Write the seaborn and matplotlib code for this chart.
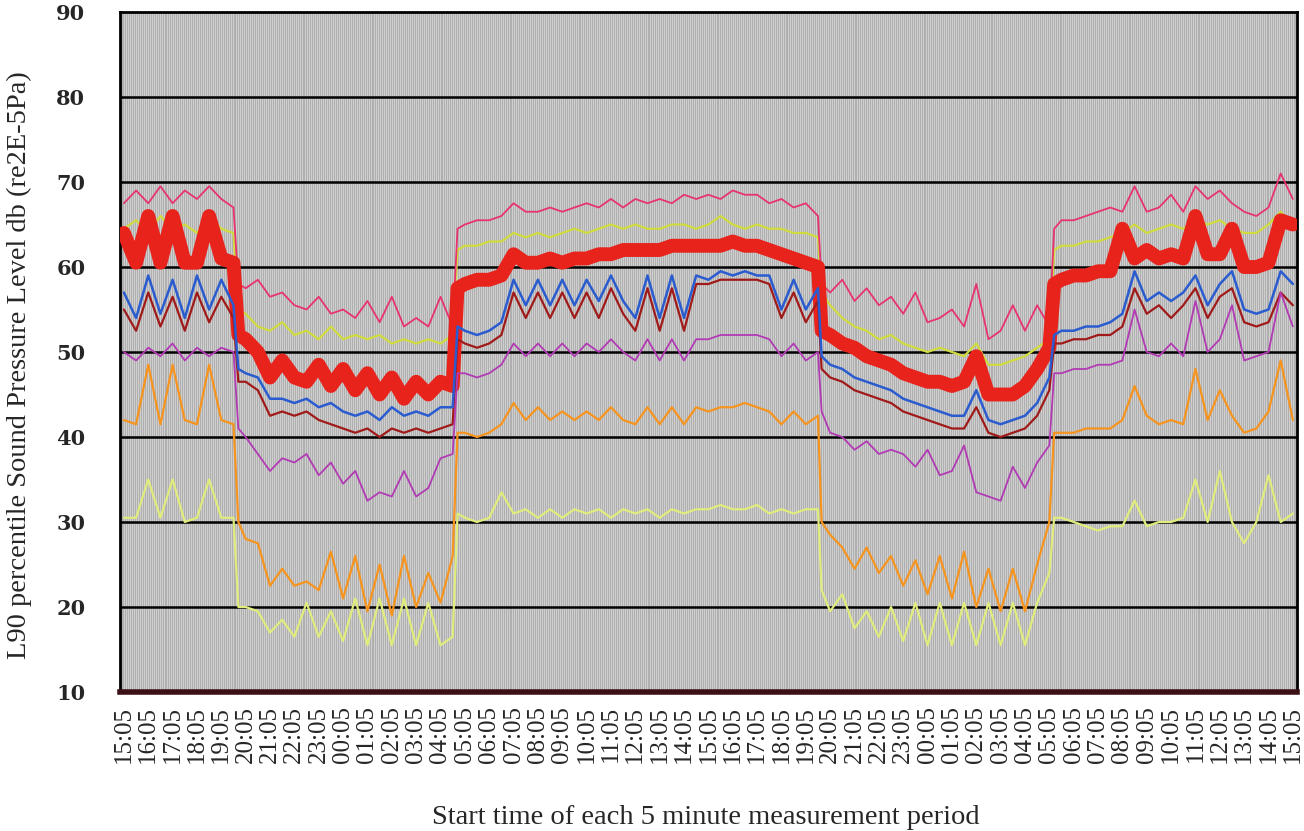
import numpy as np
import matplotlib
matplotlib.use("Agg")
import matplotlib.pyplot as plt
import seaborn as sns

# sample times in hours after 15:05 on day 1 (half-hour readings plus the step edges)
hours = np.array(list(np.arange(0, 5, 0.5)) + [4.7] + list(np.arange(5, 14, 0.5)) + [13.7]
                 + list(np.arange(14, 29, 0.5)) + [28.65] + list(np.arange(29, 38.5, 0.5))
                 + [38.2] + list(np.arange(38.5, 48.5, 0.5)))

# L90 readings (dB) per microphone, split as day1 / night1 / day2 / night2 / day3
pink = ([67.5, 69, 67.5, 69.5, 67.5, 69, 68, 69.5, 68, 67]
        + [58, 57.5, 58.5, 56.5, 57, 55.5, 55, 56.5, 54.5, 55, 54, 56, 53.5, 56.5, 53, 54, 53, 56.5, 53]
        + [64.5, 65, 65.5, 65.5, 66, 67.5, 66.5, 66.5, 67, 66.5, 67, 67.5, 67, 68, 67, 68, 67.5, 68, 67.5,
           68.5, 68, 68.5, 68, 69, 68.5, 68.5, 67.5, 68, 67, 67.5, 66]
        + [58, 57, 58.5, 56, 57.5, 55.5, 56.5, 54.5, 57, 53.5, 54, 55, 53, 58, 51.5, 52.5, 55.5, 52.5, 55.5, 53]
        + [64.5, 65.5, 65.5, 66, 66.5, 67, 66.5, 69.5, 66.5, 67, 68.5, 66.5, 69.5, 68, 69, 67.5, 66.5, 66, 67, 71, 68])

lime = ([64.5, 65.5, 64, 66, 64.5, 65, 64, 66, 64.5, 64]
        + [55, 54.5, 53, 52.5, 53.5, 52, 52.5, 51.5, 53, 51.5, 52, 51.5, 52, 51, 51.5, 51, 51.5, 51, 52]
        + [62, 62.5, 62.5, 63, 63, 64, 63.5, 64, 63.5, 64, 64.5, 64, 64.5, 65, 64.5, 65, 64.5, 64.5, 65, 65,
           64.5, 65, 66, 65, 64.5, 65, 64.5, 64.5, 64, 64, 63.5]
        + [57, 55.5, 54, 53, 52.5, 51.5, 52, 51, 50.5, 50, 50.5, 50, 49.5, 51, 48.5, 48.5, 49, 49.5, 50.5, 51.5]
        + [62, 62.5, 62.5, 63, 63, 63.5, 64, 65, 64, 64.5, 65, 64.5, 65.5, 65, 65.5, 64.5, 64, 64, 65, 66.5, 65])

red = ([64, 60.5, 66, 60.5, 66, 60.5, 60.5, 66, 61, 60.5]
       + [52, 51.5, 50, 47, 49, 47, 46.5, 48.5, 46, 48, 45.5, 47.5, 45, 47, 44.5, 46.5, 45, 46.5, 46]
       + [57.5, 58, 58.5, 58.5, 59, 61.5, 60.5, 60.5, 61, 60.5, 61, 61, 61.5, 61.5, 62, 62, 62, 62, 62.5,
          62.5, 62.5, 62.5, 62.5, 63, 62.5, 62.5, 62, 61.5, 61, 60.5, 60]
       + [52.5, 52, 51, 50.5, 49.5, 49, 48.5, 47.5, 47, 46.5, 46.5, 46, 46.5, 49.5, 45, 45, 45, 46, 48, 50.5]
       + [58, 58.5, 59, 59, 59.5, 59.5, 64.5, 61, 62, 61, 61.5, 61, 66, 61.5, 61.5, 64.5, 60, 60, 60.5, 65.5, 65])

blue = ([57, 54, 59, 54.5, 58.5, 54, 59, 55, 58.5, 55.5]
        + [48, 47.5, 47, 44.5, 44.5, 44, 44.5, 43.5, 44, 43, 42.5, 43, 42, 43.5, 42.5, 43, 42.5, 43.5, 43.5]
        + [53, 52.5, 52, 52.5, 53.5, 58.5, 55.5, 58.5, 55.5, 58.5, 55.5, 58.5, 56, 59, 56, 54, 59, 54, 59, 54,
           59, 58.5, 59.5, 59, 59.5, 59, 59, 55, 58.5, 55, 57.5]
        + [49.5, 48.5, 48, 47, 46.5, 46, 45.5, 44.5, 44, 43.5, 43, 42.5, 42.5, 45.5, 42, 41.5, 42, 42.5, 44, 47]
        + [52, 52.5, 52.5, 53, 53, 53.5, 54.5, 59.5, 56, 57, 56, 57, 59, 55.5, 58, 59.5, 55, 54.5, 55, 59.5, 58])

darkred = ([55, 52.5, 57, 53, 56.5, 52.5, 57, 53.5, 56.5, 54]
           + [46.5, 46.5, 45.5, 42.5, 43, 42.5, 43, 42, 41.5, 41, 40.5, 41, 40, 41, 40.5, 41, 40.5, 41, 41.5]
           + [51.5, 51, 50.5, 51, 52, 57, 54, 57, 54, 57, 54, 57, 54, 57.5, 54.5, 52.5, 57.5, 52.5, 57.5, 52.5,
              58, 58, 58.5, 58.5, 58.5, 58.5, 58, 54, 57, 53.5, 56]
           + [48, 47, 46.5, 45.5, 45, 44.5, 44, 43, 42.5, 42, 41.5, 41, 41, 43.5, 40.5, 40, 40.5, 41, 42.5, 45.5]
           + [51, 51, 51.5, 51.5, 52, 52, 53, 57.5, 54.5, 55.5, 54, 55.5, 57.5, 54, 56.5, 57.5, 53.5, 53, 53.5, 57, 55.5])

purple = ([50, 49, 50.5, 49.5, 51, 49, 50.5, 49.5, 50.5, 50]
          + [41, 40, 38, 36, 37.5, 37, 38, 35.5, 37, 34.5, 36, 32.5, 33.5, 33, 36, 33, 34, 37.5, 38]
          + [47.5, 47.5, 47, 47.5, 48.5, 51, 49.5, 51, 49.5, 51, 49.5, 51, 50, 51.5, 50, 49, 51.5, 49, 51.5, 49,
             51.5, 51.5, 52, 52, 52, 52, 51.5, 49.5, 51, 49, 50]
          + [43, 40.5, 40, 38.5, 39.5, 38, 38.5, 38, 36.5, 38.5, 35.5, 36, 39, 33.5, 33, 32.5, 36.5, 34, 37, 39]
          + [47.5, 47.5, 48, 48, 48.5, 48.5, 49, 55, 50, 49.5, 51, 49.5, 56, 50, 51.5, 55.5, 49, 49.5, 50, 57, 53])

orange = ([42, 41.5, 48.5, 41.5, 48.5, 42, 41.5, 48.5, 42, 41.5]
          + [30, 28, 27.5, 22.5, 24.5, 22.5, 23, 22, 26.5, 21, 26, 19.5, 25, 19, 26, 20, 24, 20.5, 26]
          + [40.5, 40.5, 40, 40.5, 41.5, 44, 42, 43.5, 42, 43, 42, 43, 42, 43.5, 42, 41.5, 43.5, 41.5, 43.5, 41.5,
             43.5, 43, 43.5, 43.5, 44, 43.5, 43, 41.5, 43, 41.5, 42.5]
          + [30, 28.5, 27, 24.5, 27, 24, 26, 22.5, 25.5, 21.5, 26, 21, 26.5, 20, 24.5, 19.5, 24.5, 19.5, 25, 30]
          + [40.5, 40.5, 40.5, 41, 41, 41, 42, 46, 42.5, 41.5, 42, 41.5, 48, 42, 45.5, 42.5, 40.5, 41, 43, 49, 42])

pale = ([30.5, 30.5, 35, 30.5, 35, 30, 30.5, 35, 30.5, 30.5]
        + [20, 20, 19.5, 17, 18.5, 16.5, 20.5, 16.5, 19.5, 16, 21, 15.5, 21, 15.5, 21, 15.5, 20.5, 15.5, 16.5]
        + [31, 30.5, 30, 30.5, 33.5, 31, 31.5, 30.5, 31.5, 30.5, 31.5, 31, 31.5, 30.5, 31.5, 31, 31.5, 30.5, 31.5,
           31, 31.5, 31.5, 32, 31.5, 31.5, 32, 31, 31.5, 31, 31.5, 31.5]
        + [22, 19.5, 21.5, 17.5, 19.5, 16.5, 20, 16, 20.5, 15.5, 20.5, 15.5, 20.5, 15.5, 20.5, 15.5, 20.5, 15.5, 20.5, 24]
        + [30.5, 30.5, 30, 29.5, 29, 29.5, 29.5, 32.5, 29.5, 30, 30, 30.5, 35, 30, 36, 30, 27.5, 30, 35.5, 30, 31])

tick_labels = ["%02d:05" % ((15 + i) % 24) for i in range(49)]

sns.set_style("white")
plt.rcParams['font.family'] = ['Liberation Serif', 'DejaVu Serif']

fig = plt.figure(figsize=(13.04, 8.31), dpi=100)
ax = fig.add_axes([120 / 1304, 1 - 692 / 831, 1177 / 1304, 680 / 831])
ax.set_facecolor('#afafaf')

# one faint line per 5 minute period, black lines every 10 dB
ax.vlines(np.arange(0, 48.01, 1 / 12), 10, 90, colors='#dedede', linewidth=0.5, zorder=0)
for y in range(20, 90, 10):
    ax.axhline(y, color='black', linewidth=1.8, zorder=1)

lines = [
    (lime, '#d0dc3e', 1.6, 2),
    (pink, '#e8336f', 1.3, 3),
    (red, '#e8231c', 10, 4),
    (darkred, '#a01a1a', 1.6, 5),
    (blue, '#2a5cd0', 1.8, 6),
    (purple, '#b23ab4', 1.3, 7),
    (orange, '#f7941e', 1.6, 8),
    (pale, '#e0ec7c', 1.6, 9),
]
for vals, col, lw, z in lines:
    assert len(vals) == len(hours)
    sns.lineplot(x=hours, y=np.array(vals), ax=ax, color=col, linewidth=lw,
                 estimator=None, sort=False, legend=False, zorder=z)

ax.set_xlim(-0.16, 48.17)
ax.set_ylim(10, 90)
ax.set_xticks(range(49))
ax.set_xticklabels(tick_labels, rotation=90, fontsize=18)
ax.set_yticks(range(10, 91, 10))
ax.set_yticklabels([str(v) for v in range(10, 91, 10)], family='DejaVu Serif',
                   fontweight='bold', fontsize=15)
ax.tick_params(axis='x', length=0, pad=10)
ax.tick_params(axis='y', length=7, width=1.5, direction='out', pad=18)
ax.set_xlabel('')
ax.set_ylabel('')

for side in ['top', 'left', 'right']:
    ax.spines[side].set_color('black')
    ax.spines[side].set_linewidth(2)
ax.spines['bottom'].set_color('#3d1016')
ax.spines['bottom'].set_linewidth(4)

fig.text(706 / 1304, 1 - 818 / 831, 'Start time of each 5 minute measurement period',
         ha='center', va='center', fontsize=20.5)
fig.text(19 / 1304, 1 - 365 / 831, 'L90 percentile Sound Pressure Level db (re2E-5Pa)',
         ha='center', va='center', rotation=90, fontsize=20.5)

fig.savefig('out.png', dpi=100)
